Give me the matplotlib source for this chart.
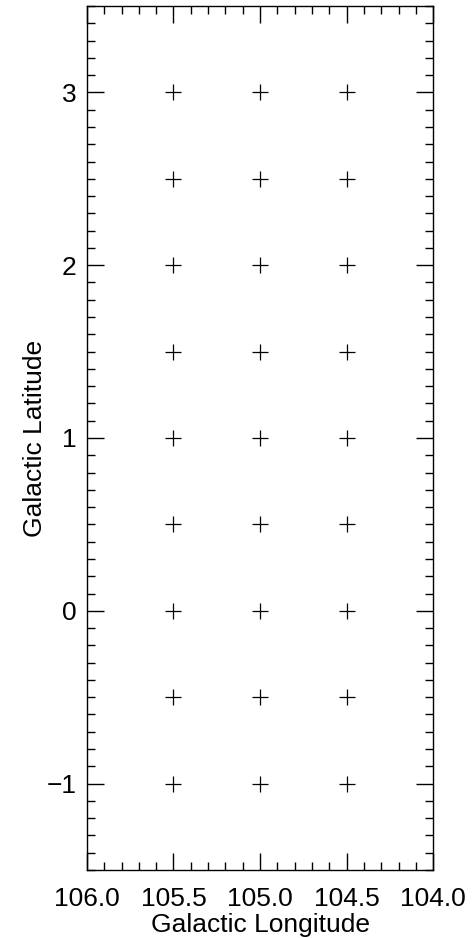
import matplotlib
matplotlib.use("Agg")
import matplotlib.pyplot as plt
from matplotlib.ticker import MultipleLocator

# puntos de la grilla (longitud, latitud galactica)
longitudes = [105.5, 105.0, 104.5]
latitudes = [-1.0, -0.5, 0.0, 0.5, 1.0, 1.5, 2.0, 2.5, 3.0]

plt.rcParams['font.family'] = ['Liberation Sans', 'DejaVu Sans']

fig = plt.figure(figsize=(4.75, 9.38), dpi=100)
ax = fig.add_axes([0.183, 0.0725, 0.729, 0.9211])

for lon in longitudes:
    ax.plot([lon] * len(latitudes), latitudes, linestyle='none', marker='+',
            markersize=11, markeredgewidth=0.9, color='black')

ax.set_xlim(106.0, 104.0)
ax.set_ylim(-1.5, 3.5)
ax.xaxis.set_major_locator(MultipleLocator(0.5))
ax.xaxis.set_minor_locator(MultipleLocator(0.1))
ax.yaxis.set_major_locator(MultipleLocator(1))
ax.yaxis.set_minor_locator(MultipleLocator(0.1))
ax.xaxis.set_major_formatter(plt.FuncFormatter(lambda v, p: '%.1f' % v))

ax.tick_params(which='both', direction='in', top=True, right=True, width=1, labelsize=19)
ax.tick_params(axis='x', which='major', length=12, pad=12)
ax.tick_params(axis='y', which='major', length=12, pad=7.5)
ax.tick_params(which='minor', length=6)
for s in ax.spines.values():
    s.set_linewidth(1)

ax.set_xlabel('Galactic Longitude', fontsize=19, labelpad=2)
ax.set_ylabel('Galactic Latitude', fontsize=19, labelpad=0)

fig.savefig('out.png', dpi=100)
